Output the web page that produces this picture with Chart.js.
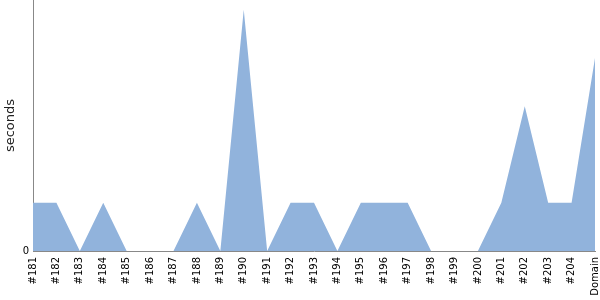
<!DOCTYPE html>
<html>
<head>
<meta charset="utf-8">
<script src="https://cdn.jsdelivr.net/npm/chart.js@4"></script>
<style>
  html, body { margin: 0; padding: 0; background: #fff; }
  #wrap { width: 600px; height: 300px; }
</style>
</head>
<body>
<div id="wrap"><canvas id="grafica"></canvas></div>
<script>
// categorias y valores
const builds = ["#181", "#182", "#183", "#184", "#185", "#186", "#187", "#188", "#189", "#190",
  "#191", "#192", "#193", "#194", "#195", "#196", "#197", "#198", "#199", "#200",
  "#201", "#202", "#203", "#204", "Domain"];
const seconds = [1, 1, 0, 1, 0, 0, 0, 1, 0, 5, 0, 1, 1, 0, 1, 1, 1, 0, 0, 0, 1, 3, 1, 1, 4];
const yTicks = [0];

const ctx = document.getElementById("grafica").getContext("2d");

new Chart(ctx, {
  type: "line",
  data: {
    labels: builds,
    datasets: [{
      data: seconds,
      fill: "origin",
      backgroundColor: "rgb(145,179,220)",
      borderColor: "rgb(145,179,220)",
      borderWidth: 0,
      pointRadius: 0,
      tension: 0
    }]
  },
  options: {
    responsive: true,
    maintainAspectRatio: false,
    animation: false,
    plugins: { legend: { display: false }, tooltip: { enabled: false } },
    layout: { padding: { left: 3, right: 5, top: 0, bottom: 0 } },
    scales: {
      x: {
        offset: false,
        grid: { display: false, tickLength: 4 },
        border: { color: "#888" },
        ticks: {
          color: "#000",
          font: { family: "DejaVu Sans", size: 10 },
          maxRotation: 90,
          minRotation: 90,
          autoSkip: false,
          padding: 2
        },
        afterFit: s => { s.height = 49; s.paddingLeft = 0; s.paddingRight = 0; }
      },
      y: {
        min: 0,
        max: 5.2,
        grid: { display: false, tickLength: 4 },
        border: { color: "#888" },
        title: {
          display: true,
          text: "seconds",
          color: "#222",
          font: { family: "DejaVu Sans", size: 13 },
          padding: 0
        },
        afterBuildTicks: s => { s.ticks = yTicks.map(v => ({ value: v })); },
        ticks: {
          color: "#000",
          font: { family: "DejaVu Sans", size: 10 },
          padding: 0
        },
        afterFit: s => { s.width = 30; s.paddingTop = 0; s.paddingBottom = 0; }
      }
    }
  }
});
</script>
</body>
</html>
